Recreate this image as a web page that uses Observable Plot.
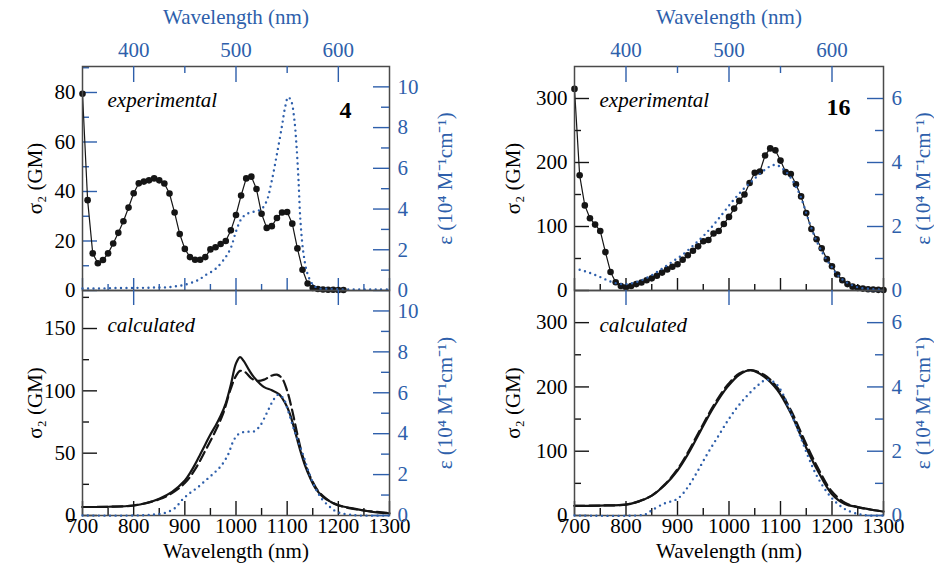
<!DOCTYPE html>
<html>
<head>
<meta charset="utf-8">
<script src="https://cdn.jsdelivr.net/npm/d3@7"></script>
<script src="https://cdn.jsdelivr.net/npm/@observablehq/plot@0.6"></script>
<style>
  html, body { margin: 0; padding: 0; background: #fff; }
  #chart { position: relative; width: 934px; height: 565px; overflow: hidden; background: #fff; }
  #chart svg { position: absolute; left: 0; top: 0; background: transparent !important; overflow: visible; }
</style>
</head>
<body>
<div id="chart"></div>
<script>
// ---------------- DATA ----------------
// axis tick labels
const twoPhotonTicks = [700, 800, 900, 1000, 1100, 1200, 1300];
const twoPhotonMinor = [750, 850, 950, 1050, 1150, 1250];
const onePhotonTicks = [400, 500, 600];
const onePhotonMinor = [450, 550];
const sigma4ExpTicks = [0, 20, 40, 60, 80];
const sigma4ExpMinor = [10, 30, 50, 70, 90];
const sigma4CalcTicks = [0, 50, 100, 150];
const sigma4CalcMinor = [25, 75, 125, 175];
const sigma16Ticks = [0, 100, 200, 300];
const sigma16Minor = [50, 150, 250];
const eps4Ticks = [0, 2, 4, 6, 8, 10];
const eps4Minor = [1, 3, 5, 7, 9];
const eps16Ticks = [0, 2, 4, 6];
const eps16Minor = [1, 3, 5];

// compound 4 — experimental sigma2 (GM) vs two-photon wavelength (nm)
const exp4Wl = [700,710,720,730,740,750,760,770,780,790,800,810,820,830,840,850,860,870,880,890,900,910,920,930,940,950,960,970,980,990,1000,1010,1020,1030,1040,1050,1060,1070,1080,1090,1100,1110,1120,1130,1140,1150,1160,1170,1180,1190,1200,1210];
const exp4Sigma = [79.5,36.5,15,11,12.3,15,19,23.3,28,33.5,39.3,43.3,44,44.5,45.3,44.5,43.2,39.2,31.5,22.8,16.8,13.5,12.4,12.4,13.5,16.6,17.5,18.8,20,24.3,30.5,38.4,45.3,46,41,31,25.3,26,29.3,31.5,31.7,27,17,8.4,2.8,1,0.6,0.4,0.3,0.3,0.2,0.2];
// compound 4 — experimental epsilon (10^4 M^-1 cm^-1) vs one-photon wavelength (nm)
const abs4Wl = [350,360,370,380,390,400,410,420,430,440,450,460,465,470,480,490,495,500,505,510,515,520,525,530,535,540,545,548,551,554,557,559,561,563,566,570,575,580,590,600,610,620,630,640,650];
const abs4Eps = [0.1,0.1,0.1,0.12,0.12,0.13,0.13,0.15,0.15,0.2,0.28,0.45,0.57,0.75,1.06,1.65,2.1,2.9,3.5,3.75,3.84,3.9,4.0,4.4,5.4,6.7,8.1,9.0,9.5,9.3,8.4,7.2,5.5,3.4,1.8,0.8,0.3,0.12,0.08,0.06,0.05,0.05,0.05,0.05,0.05];
// compound 4 — calculated sigma2 (solid and dashed)
const calc4Wl = [700,750,800,825,850,875,900,910,920,930,940,950,960,970,980,990,1000,1008,1015,1025,1035,1055,1070,1085,1095,1105,1115,1125,1135,1145,1155,1170,1185,1200,1225,1250,1275,1300];
const calc4Solid = [6.8,7,8,10,13.5,19,28,34,41,49,57,65,72,80,90,105,122,127,124,117,111,103,100.5,97,91,82,68,53,40,30,22,15,11,8,6,4,2.5,1.8];
const calc4DashWl = [700,750,800,850,875,900,920,940,960,975,990,1000,1008,1018,1030,1042,1055,1068,1080,1090,1100,1110,1120,1130,1140,1150,1160,1175,1190,1210,1250,1300];
const calc4Dash = [6.8,7,8,13,18,26,37,52,68,82,102,112,116,115,110,108,109,112,113,110,100,84,65,48,36,27,20,14,10,7,4,2];
// compound 4 — calculated epsilon
const calc4AbsWl = [350,400,420,430,440,448,455,462,470,478,485,492,498,503,510,517,523,530,536,541,546,551,556,561,566,572,578,584,590,596,602,610,620,650];
const calc4AbsEps = [0,0,0.05,0.12,0.35,0.8,1.1,1.35,1.7,2.05,2.4,2.95,3.7,4.0,4.1,4.1,4.35,5.0,5.6,5.9,5.75,5.1,4.3,3.6,2.9,2.0,1.3,0.8,0.5,0.25,0.12,0.05,0,0];

// compound 16 — experimental sigma2
const exp16Wl = [700,710,720,730,740,750,760,770,780,790,800,810,820,830,840,850,860,870,880,890,900,910,920,930,940,950,960,970,980,990,1000,1010,1020,1030,1040,1050,1060,1070,1080,1090,1100,1110,1120,1130,1140,1150,1160,1170,1180,1190,1200,1210,1220,1230,1240,1250,1260,1270,1280,1290,1300];
const exp16Sigma = [315,180,133,113,103,93,60,29,13,7,5,7,10,12.5,16,19,23,28,33,37,41,48,55,62,69,77,79,89,93,104,115,128,140,150,168,184,186,211,222,219,203,185,182,166,147,121,96,80,66,49,38,25,16,10,6,4,3,2,1.5,1,0.8];
// compound 16 — experimental epsilon
const abs16Wl = [355,365,375,385,395,405,415,425,435,445,455,465,475,485,495,505,515,525,535,540,545,550,555,560,565,570,575,580,585,590,595,600,605,610,615,620,625,630,640,650];
const abs16Eps = [0.65,0.55,0.42,0.28,0.2,0.22,0.32,0.48,0.68,0.9,1.12,1.4,1.7,2.05,2.45,2.85,3.2,3.5,3.78,3.88,3.93,3.86,3.72,3.52,3.25,2.9,2.42,1.95,1.55,1.22,0.95,0.72,0.5,0.35,0.24,0.16,0.1,0.07,0.04,0.03];
// compound 16 — calculated sigma2
const calc16Wl = [700,750,800,825,850,875,900,920,945,970,997,1020,1042,1068,1094,1120,1146,1172,1199,1225,1250,1277,1300];
const calc16Solid = [15,15.5,17,22,31,47,70,95,132,168,200,219,226,216,195,159,112,70,34,18,13,9,6];
const calc16Dash = [15,15.5,17,22,31,48,72,98,135,171,203,221,226,219,199,164,118,75,38,20,13,9,6];
// compound 16 — calculated epsilon
const calc16AbsWl = [350,410,420,425,437,450,460,469,479,489,499,508,518,528,536,545,552,557,567,577,586,599,612,625,635,650];
const calc16AbsEps = [0,0,0.05,0.16,0.37,0.52,0.88,1.35,1.92,2.44,2.96,3.37,3.74,4.05,4.22,4.12,3.8,3.43,2.65,1.82,1.19,0.57,0.21,0.05,0,0];

// ---------------- LAYOUT ----------------
const W = 934, H = 565;
const BLUE = "#2e5fab";
const INK = "#151515";
const FRAMEC = "#4a4a4a";
const FONT = "Liberation Serif";
const FS = 21;
const EPS_LABEL = "ε (10⁴ M⁻¹cm⁻¹)";
const SIG_LABEL = "σ₂ (GM)";

const FR = {
  left:   {l: 82,  r: 389},
  right:  {l: 574, r: 883},
  top:    {t: 66,  b: 290},
  bottom: {t: 290, b: 515}
};

const chart = document.getElementById("chart");
const zip = (a, b) => a.map((v, i) => [v, b[i]]);
const fw = h => h.r - h.l;
const fh = v => v.b - v.t;
const fmt = d => String(d);
const txt = {fontFamily: FONT, fontSize: FS};
const mid = {textAnchor: "middle", lineAnchor: "middle"};

function add(h, v, xDomain, yDomain, marks) {
  const svg = Plot.plot({
    width: W, height: H,
    marginLeft: h.l, marginRight: W - h.r, marginTop: v.t, marginBottom: H - v.b,
    x: {domain: xDomain, axis: null},
    y: {domain: yDomain, axis: null},
    style: {background: "transparent", fontFamily: FONT, fontSize: FS + "px", overflow: "visible"},
    marks
  });
  chart.appendChild(svg);
}

const tl = (vals, len, h, c) => Plot.ruleY(vals, {y: d => d, stroke: c, strokeWidth: 1.4, insetRight: fw(h) - len});
const tr = (vals, len, h, c) => Plot.ruleY(vals, {y: d => d, stroke: c, strokeWidth: 1.4, insetLeft: fw(h) - len});
const tb = (vals, len, v, c) => Plot.ruleX(vals, {x: d => d, stroke: c, strokeWidth: 1.4, insetTop: fh(v) - len});
const tt = (vals, len, v, c) => Plot.ruleX(vals, {x: d => d, stroke: c, strokeWidth: 1.4, insetBottom: fh(v) - len});

const dotted = {stroke: BLUE, strokeWidth: 2.4, strokeDasharray: "0 5.5", strokeLinecap: "round", curve: "catmull-rom"};

function panel(h, c) {
  const T = FR.top, B = FR.bottom;
  // ---- top (experimental) : sigma layer
  add(h, T, [700, 1300], c.expDomain, [
    tl(c.expMajor, 15, h, c.expTickColor),
    tl(c.expMinor, 7, h, c.expTickColor),
    tb(twoPhotonTicks, 12, T, c.expTickColor),
    tb(twoPhotonMinor, 6, T, c.expTickColor),
    Plot.axisY(c.expMajor, {anchor: "left", tickSize: 0, tickPadding: 7, tickFormat: fmt, label: null, ...txt}),
    Plot.text([SIG_LABEL], {text: d => d, frameAnchor: "left", dx: c.leftLabelDx, rotate: -90, ...mid, ...txt}),
    Plot.line(zip(c.expWl, c.expSigma), {stroke: INK, strokeWidth: 1.2}),
    Plot.dot(zip(c.expWl, c.expSigma), {fill: INK, r: 3.3}),
    Plot.text(["experimental"], {text: d => d, frameAnchor: "top-left", dx: 25, dy: 34, textAnchor: "start", lineAnchor: "middle", fontStyle: "italic", ...txt}),
    Plot.text([c.tag], {text: d => d, frameAnchor: "top-right", dx: c.tagDx, dy: c.tagDy, ...mid, fontWeight: "bold", fontFamily: FONT, fontSize: 24}),
    Plot.frame({stroke: FRAMEC, strokeWidth: 1.5})
  ]);
  // ---- top : epsilon layer
  add(h, T, [350, 650], c.epsDomain, [
    tt(onePhotonTicks, 16, T, BLUE),
    tt(onePhotonMinor, 7, T, BLUE),
    tr(c.epsMajor, 16, h, BLUE),
    tr(c.epsMinor, 8, h, BLUE),
    Plot.axisX(onePhotonTicks, {anchor: "top", tickSize: 0, tickPadding: 10, color: BLUE, tickFormat: fmt, label: null, ...txt}),
    Plot.axisY(c.epsMajor, {anchor: "right", tickSize: 0, tickPadding: 8, color: BLUE, tickFormat: fmt, label: null, ...txt}),
    Plot.text(["Wavelength (nm)"], {text: d => d, frameAnchor: "top", dy: -49, fill: BLUE, ...mid, ...txt}),
    Plot.text([EPS_LABEL], {text: d => d, frameAnchor: "right", dx: c.rightLabelDx, rotate: -90, fill: BLUE, ...mid, ...txt}),
    Plot.line(zip(c.absWl, c.absEps), dotted)
  ]);
  // ---- bottom (calculated) : sigma layer
  add(h, B, [700, 1300], c.calcDomain, [
    tl(c.calcMajor, 15, h, INK),
    tl(c.calcMinor, 7, h, INK),
    tb(twoPhotonTicks, 14, B, INK),
    tb(twoPhotonMinor, 7, B, INK),
    Plot.axisX(twoPhotonTicks, {anchor: "bottom", tickSize: 0, tickPadding: 3, tickFormat: fmt, label: null, ...txt}),
    Plot.axisY(c.calcMajor, {anchor: "left", tickSize: 0, tickPadding: 7, tickFormat: fmt, label: null, ...txt}),
    Plot.text([SIG_LABEL], {text: d => d, frameAnchor: "left", dx: c.leftLabelDx, rotate: -90, ...mid, ...txt}),
    Plot.text(["Wavelength (nm)"], {text: d => d, frameAnchor: "bottom", dy: 36, ...mid, ...txt}),
    Plot.line(zip(c.calcWl, c.calcSolid), {stroke: INK, strokeWidth: 2.2, curve: "catmull-rom"}),
    Plot.line(zip(c.calcDashWl, c.calcDash), {stroke: INK, strokeWidth: 2.2, strokeDasharray: "10 5", curve: "catmull-rom"}),
    Plot.text(["calculated"], {text: d => d, frameAnchor: "top-left", dx: 25, dy: 35, textAnchor: "start", lineAnchor: "middle", fontStyle: "italic", ...txt}),
    Plot.frame({stroke: FRAMEC, strokeWidth: 1.5})
  ]);
  // ---- bottom : epsilon layer
  add(h, B, [350, 650], c.epsDomain, [
    tt(onePhotonTicks, 15, B, BLUE),
    tr(c.epsMajor, 16, h, BLUE),
    tr(c.epsMinor, 8, h, BLUE),
    Plot.axisY(c.epsMajor, {anchor: "right", tickSize: 0, tickPadding: 8, color: BLUE, tickFormat: fmt, label: null, ...txt}),
    Plot.text([EPS_LABEL], {text: d => d, frameAnchor: "right", dx: c.rightLabelDx, rotate: -90, fill: BLUE, ...mid, ...txt}),
    Plot.line(zip(c.calcAbsWl, c.calcAbsEps), dotted)
  ]);
}

panel(FR.left, {
  expDomain: [0, 90.5], expMajor: sigma4ExpTicks, expMinor: sigma4ExpMinor, expTickColor: BLUE,
  calcDomain: [0, 180.5], calcMajor: sigma4CalcTicks, calcMinor: sigma4CalcMinor,
  epsDomain: [0, 11], epsMajor: eps4Ticks, epsMinor: eps4Minor,
  expWl: exp4Wl, expSigma: exp4Sigma, absWl: abs4Wl, absEps: abs4Eps,
  calcWl: calc4Wl, calcSolid: calc4Solid, calcDashWl: calc4DashWl, calcDash: calc4Dash,
  calcAbsWl: calc4AbsWl, calcAbsEps: calc4AbsEps,
  tag: "4", tagDx: -44, tagDy: 44, leftLabelDx: -47, rightLabelDx: 56
});

panel(FR.right, {
  expDomain: [0, 350], expMajor: sigma16Ticks, expMinor: sigma16Minor, expTickColor: INK,
  calcDomain: [0, 350], calcMajor: sigma16Ticks, calcMinor: sigma16Minor,
  epsDomain: [0, 7], epsMajor: eps16Ticks, epsMinor: eps16Minor,
  expWl: exp16Wl, expSigma: exp16Sigma, absWl: abs16Wl, absEps: abs16Eps,
  calcWl: calc16Wl, calcSolid: calc16Solid, calcDashWl: calc16Wl, calcDash: calc16Dash,
  calcAbsWl: calc16AbsWl, calcAbsEps: calc16AbsEps,
  tag: "16", tagDx: -45, tagDy: 41, leftLabelDx: -61, rightLabelDx: 40
});
</script>
</body>
</html>
